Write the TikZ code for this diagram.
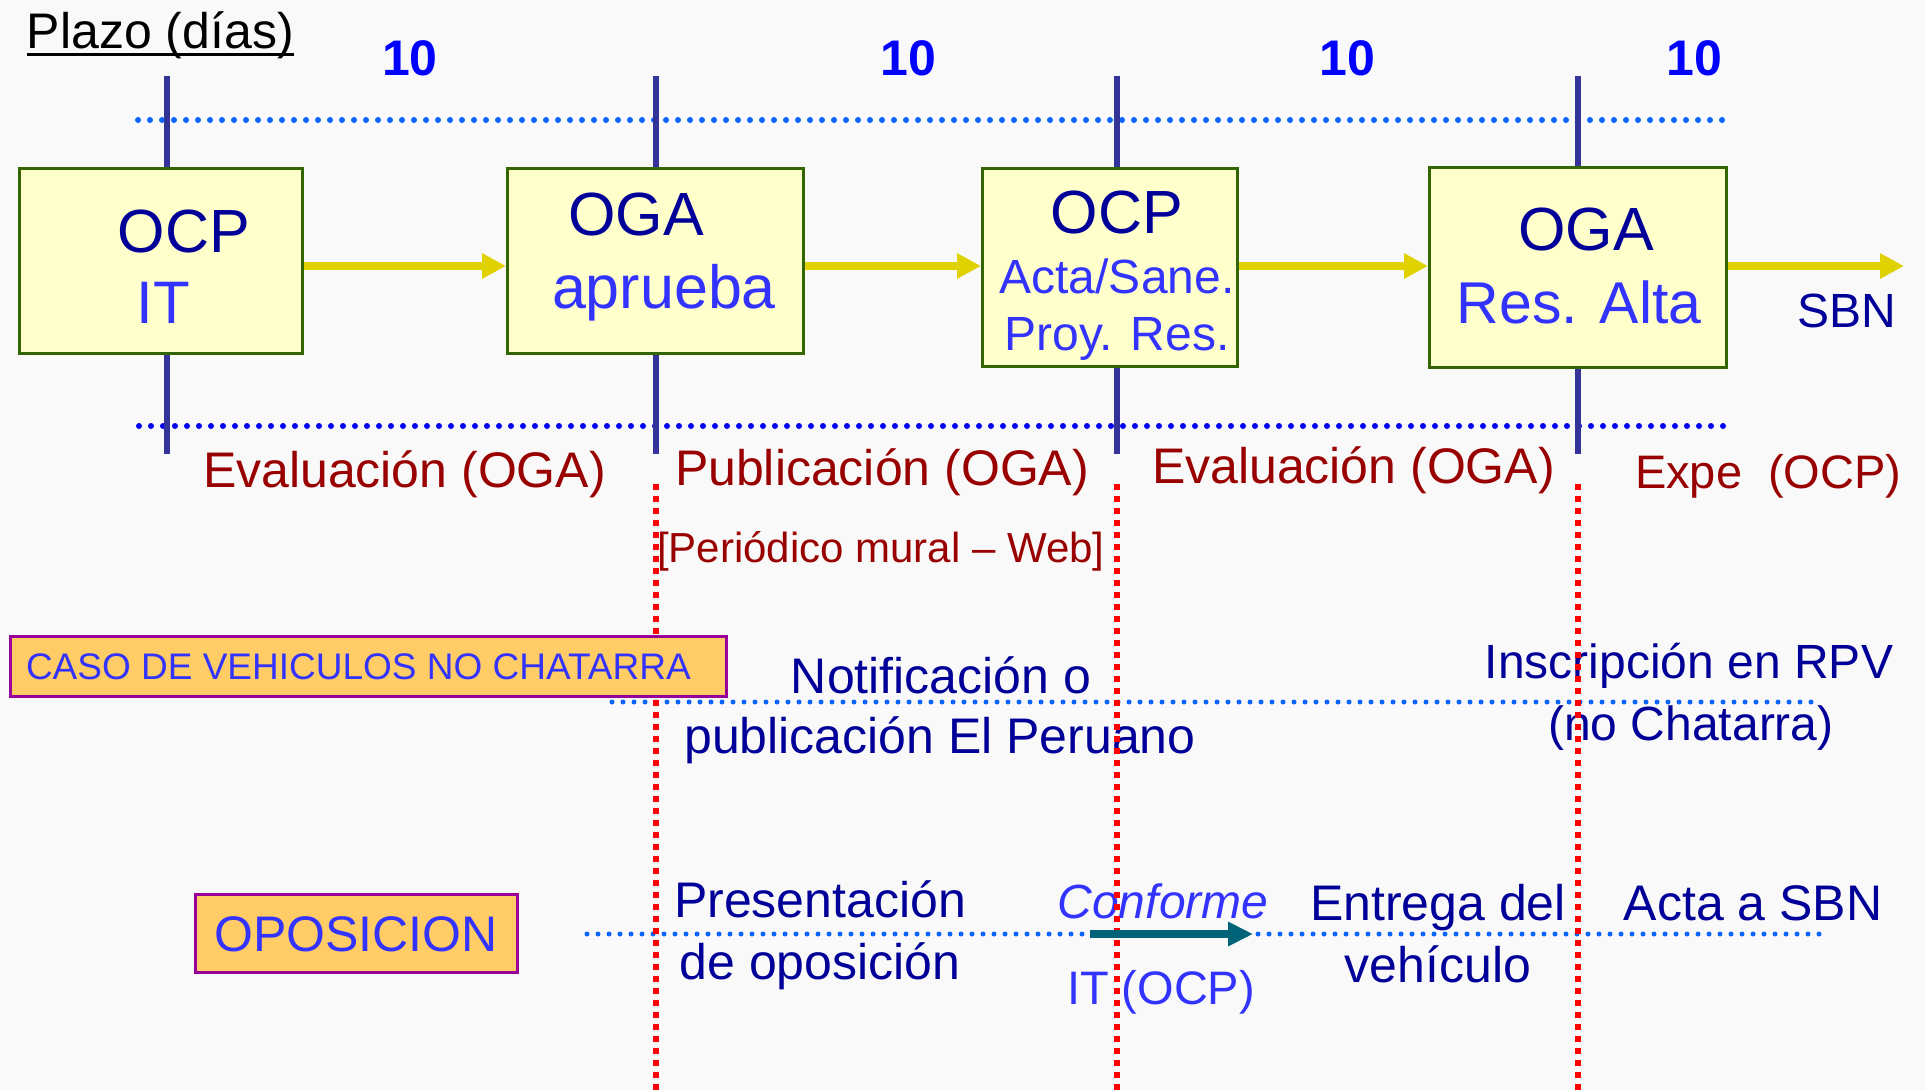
\documentclass[tikz,border=0pt]{standalone}
\usepackage{fontspec}
\setmainfont{Liberation Sans}
\usetikzlibrary{arrows.meta}
\definecolor{bgc}{HTML}{F9F9F9}
\definecolor{navy}{HTML}{000099}
\definecolor{lblue}{HTML}{3333FF}
\definecolor{pblue}{HTML}{0000FF}
\definecolor{dred}{HTML}{990000}
\definecolor{vline}{HTML}{333399}
\definecolor{dotA}{HTML}{0A66FF}
\definecolor{dotB}{HTML}{0000F0}
\definecolor{boxfill}{HTML}{FFFFCC}
\definecolor{boxdraw}{HTML}{336600}
\definecolor{orfill}{HTML}{FFCC66}
\definecolor{ordraw}{HTML}{990099}
\definecolor{yarrow}{HTML}{E0D200}
\definecolor{tealarr}{HTML}{006378}
\newcommand\fsz[1]{\fontsize{#1pt}{#1pt}\selectfont}
\begin{document}
\begin{tikzpicture}[x=1pt,y=-1pt,
  txt/.style={inner sep=0pt, outer sep=0pt, anchor=base},
  stepbox/.style={draw=boxdraw, fill=boxfill, line width=3pt, inner sep=0pt},
  orbox/.style={draw=ordraw, fill=orfill, line width=3pt, inner sep=0pt},
  dotline/.style={line width=6pt, line cap=round, dash pattern=on 0pt off 12pt},
  dotlinesm/.style={line width=5pt, line cap=round, dash pattern=on 0pt off 11pt},
  reddash/.style={red, line width=5.5pt, dash pattern=on 6pt off 6pt},
  vl/.style={vline, line width=6pt},
  yarr/.style={yarrow, line width=8pt, -{Triangle[length=24pt,width=24pt]}},
]
\fill[bgc] (0,0) rectangle (1925,1090);
\useasboundingbox (0,0) rectangle (1925,1090);

% header
\node[txt, anchor=base west, font=\fsz{50}] (plazo) at (27,48) {Plazo (días)};
\draw[line width=3pt] ([yshift=-6pt]plazo.base west) -- ([yshift=-6pt]plazo.base east);
\foreach \x/\n in {410/d1,908/d2,1347/d3,1694/d4}
  \node[txt, font=\fsz{50}\bfseries, text=pblue] (\n) at (\x,75) {10};

% dotted horizontal lines
\draw[dotline, dotA] (138,120) -- (1728,120);
\draw[dotline, dotB] (139,426) -- (1727,426);

% vertical navy lines
\draw[vl] (167,76) -- (167,167);
\draw[vl] (167,355) -- (167,454);
\draw[vl] (656,76) -- (656,167);
\draw[vl] (656,355) -- (656,454);
\draw[vl] (1117,76) -- (1117,167);
\draw[vl] (1117,368) -- (1117,454);
\draw[vl] (1578,76) -- (1578,166);
\draw[vl] (1578,369) -- (1578,454);

% boxes
\node[stepbox, minimum width=283pt, minimum height=185pt] (b1) at (161,261) {};
\node[stepbox, minimum width=296pt, minimum height=185pt] (b2) at (655.5,261) {};
\node[stepbox, minimum width=255pt, minimum height=198pt] (b3) at (1110,267.5) {};
\node[stepbox, minimum width=297pt, minimum height=200pt] (b4) at (1578,267.5) {};

% box texts
\node[txt, font=\fsz{61}, text=navy] (t1a) at (184,252) {OCP};
\node[txt, font=\fsz{60}, text=lblue] (t1b) at (163,323) {IT};
\node[txt, font=\fsz{61}, text=navy] (t2a) at (636,235) {OGA};
\node[txt, font=\fsz{61}, text=lblue] (t2b) at (664,308) {aprueba};
\node[txt, font=\fsz{61}, text=navy] (t3a) at (1117,233) {OCP};
\node[txt, font=\fsz{48}, text=lblue] (t3b) at (1117,293) {Acta/Sane.};
\node[txt, font=\fsz{48}, text=lblue] (t3c) at (1117,350) {Proy. Res.};
\node[txt, font=\fsz{61}, text=navy] (t4a) at (1586,250) {OGA};
\node[txt, font=\fsz{59}, text=lblue] (t4b) at (1579,323) {Res. Alta};

% yellow arrows
\coordinate (ay) at (0,266);
\coordinate (send) at (1904,266);
\draw[yarr] (b1.east |- ay) -- (b2.west |- ay);
\draw[yarr] (b2.east |- ay) -- (b3.west |- ay);
\draw[yarr] (b3.east |- ay) -- (b4.west |- ay);
\draw[yarr] (b4.east |- ay) -- (send);
\node[txt, font=\fsz{48}, text=navy] (sbn) at (1847,327) {SBN};

% phase labels
\node[txt, anchor=base west, font=\fsz{50}, text=dred] (ev1) at (203,487) {Evaluación (OGA)};
\node[txt, anchor=base west, font=\fsz{50}, text=dred] (pub) at (675,485) {Publicación (OGA)};
\node[txt, anchor=base west, font=\fsz{50}, text=dred] (ev2) at (1152,483) {Evaluación (OGA)};
\node[txt, anchor=base west, font=\fsz{47}, text=dred] (expe) at (1635,488) {Expe\ \ (OCP)};
\node[txt, anchor=base west, font=\fsz{42}, text=dred] (per) at (657,562) {[Periódico mural – Web]};

% notification row
\draw[dotlinesm, dotA] (612,702) -- (1818,702);
\node[txt, font=\fsz{50}, text=navy] (not1) at (941,693) {Notificación o};
\node[txt, font=\fsz{50}, text=navy] (not2) at (940,753) {publicación El Peruano};
\node[txt, font=\fsz{48}, text=navy] (ins1) at (1689,678) {Inscripción en RPV};
\node[txt, font=\fsz{48}, text=navy] (ins2) at (1691,740) {(no Chatarra)};

% oposicion row
\draw[dotlinesm, dotA] (587,934) -- (1829,934);
\node[txt, font=\fsz{50}, text=navy] (pre1) at (820,917) {Presentación};
\node[txt, font=\fsz{50}, text=navy] (pre2) at (820,979) {de oposición};
\node[txt, font=\fsz{48}\itshape, text=lblue] (conf) at (1163,918) {Conforme};
\node[txt, font=\fsz{47}, text=lblue] (itocp) at (1161,1004) {IT (OCP)};
\node[txt, font=\fsz{50}, text=navy] (ent1) at (1438,920) {Entrega del};
\node[txt, font=\fsz{50}, text=navy] (ent2) at (1438,982) {vehículo};
\node[txt, font=\fsz{50}, text=navy] (acta) at (1753,920) {Acta a SBN};

% red dashed verticals
\draw[reddash] (656,484) -- (656,1090);
\draw[reddash] (1117,484) -- (1117,1090);
\draw[reddash] (1578,484) -- (1578,1090);

% teal arrow
\coordinate (ta) at (1090,934);
\coordinate (tb) at (1253,934);
\draw[tealarr, line width=8pt, -{Triangle[length=25pt,width=23pt]}] (ta) -- (tb);

% orange boxes
\node[orbox, minimum width=716pt, minimum height=60pt] (caso) at (368.5,666.5) {};
\node[txt, anchor=base west, font=\fsz{37}, text=lblue] (casot) at (26,679) {CASO DE VEHICULOS NO CHATARRA};
\node[orbox, minimum width=322pt, minimum height=78pt] (opo) at (356.5,933.5) {};
\node[txt, font=\fsz{50}, text=lblue] (opot) at (356,951) {OPOSICION};
\end{tikzpicture}
\end{document}
